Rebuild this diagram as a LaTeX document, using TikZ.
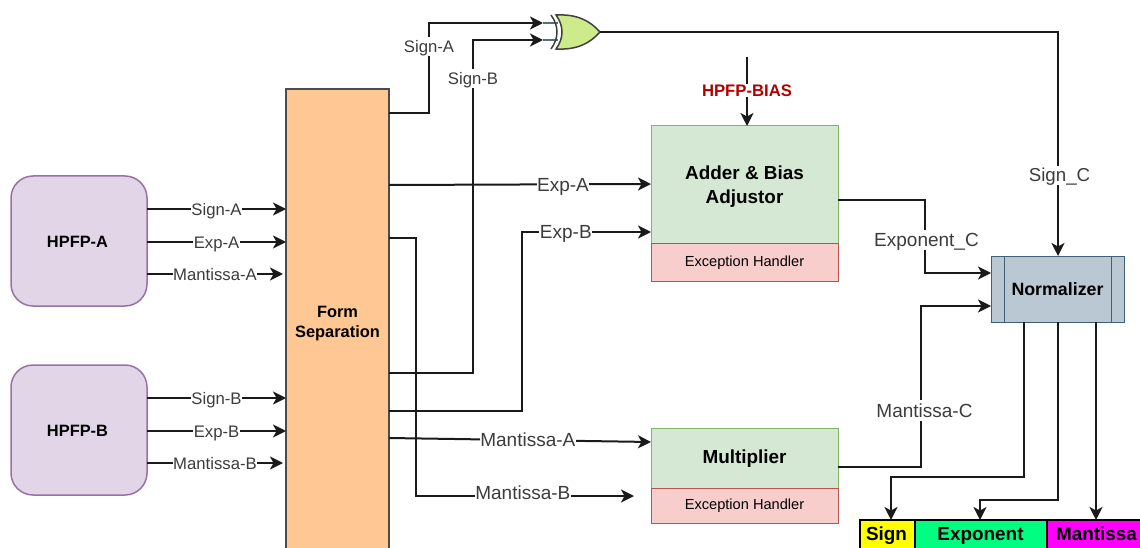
\documentclass[tikz,border=0pt]{standalone}
\usepackage{fontspec}
\setmainfont{Liberation Sans}
\usepackage{xcolor}
\usetikzlibrary{arrows.meta}
\definecolor{lilac}{HTML}{E1D5E7}
\definecolor{lilacline}{HTML}{9673A6}
\definecolor{peach}{HTML}{FFC794}
\definecolor{mint}{HTML}{D5E8D4}
\definecolor{mintline}{HTML}{82B366}
\definecolor{blush}{HTML}{F8CECC}
\definecolor{blushline}{HTML}{B85450}
\definecolor{slate}{HTML}{BAC8D3}
\definecolor{slateline}{HTML}{3F6078}
\definecolor{gategreen}{HTML}{CDEB8B}
\definecolor{biasred}{HTML}{B20000}
\definecolor{wirecol}{HTML}{1A1A1A}
\definecolor{labcol}{HTML}{3C3C3C}
\definecolor{expgreen}{HTML}{00FF80}
\definecolor{fuchsia}{HTML}{FF00FF}
\definecolor{lemon}{HTML}{FFFF00}

\begin{document}
\begin{tikzpicture}[>={Stealth[length=13pt,width=13pt,inset=3.5pt]}, x=1pt, y=-1pt]
	\useasboundingbox (0,0) rectangle (1140,548);
	\clip (0,0) rectangle (1140,548);
	
	% ------------------------------------------------------------------
	% STYLE DEFINITIONS
	% ------------------------------------------------------------------
	\tikzset{
		block/.style  = {draw, line width=1pt, inner sep=0pt, outer sep=0pt, anchor=north west, align=center},
		hpfp/.style   = {block, fill=lilac, draw=lilacline, line width=1.5pt, rounded corners=22pt,
			minimum width=136pt, minimum height=130pt, font=\fontsize{16.4}{19}\selectfont\bfseries},
		unit/.style   = {block, fill=mint, draw=mintline, minimum width=187pt, font=\fontsize{18.9}{24}\selectfont\bfseries},
		handler/.style = {block, fill=blush, draw=blushline, minimum width=187pt, font=\fontsize{14.6}{17}\selectfont},
		field/.style  = {block, draw=black, line width=1.5pt, minimum height=40pt, text depth=13pt,
			font=\fontsize{18.9}{22}\selectfont\bfseries},
		wire/.style   = {line width=2pt, wirecol},
		lab/.style    = {fill=white, inner sep=0.5pt, text height=15pt, text depth=3pt, text=labcol, font=\fontsize{16.7}{19}\selectfont},
		biglab/.style = {lab, text height=16.6pt, font=\fontsize{19}{22}\selectfont}
	}
	
	% --- Blocks ---
	\node[hpfp] (hpfpA) at (11,176) {\rule{0pt}{13pt}HPFP-A\hspace{3pt}};
	\node[hpfp] (hpfpB) at (11,365) {\rule{0pt}{13pt}HPFP-B\hspace{3pt}};
	\node[block, fill=peach, draw=black!70, line width=1.5pt, minimum width=103pt, minimum height=480pt] (sep) at (286,89) {};
	\node[align=center, font=\fontsize{16.4}{20}\selectfont\bfseries] (septext) at (337.5,323.5) {Form\\Separation};
	
	\node[unit, minimum height=117pt] (adder) at (651,126) {\rule{0pt}{18pt}Adder \& Bias\\Adjustor};
	\node[handler, minimum height=38pt] (adderexc) at (651,243) {\rule{0pt}{13pt}Exception Handler};
	\node[unit, minimum height=60pt] (mult) at (651,428) {\rule{0pt}{15pt}Multiplier};
	\node[handler, minimum height=35pt] (multexc) at (651,488) {Exception Handler};
	
	\node[block, fill=slate, draw=slateline, minimum width=133pt, minimum height=66pt,
		font=\fontsize{17.8}{21}\selectfont\bfseries] (norm) at (991,256) {Normalizer};
	\draw[slateline, line width=1pt] (1004,256) -- (1004,322) (1111,256) -- (1111,322);
	
	\node[field, fill=lemon, minimum width=55pt] (fsign) at (860,520) {Sign\hspace{2pt}};
	\node[field, fill=expgreen, minimum width=132pt] (fexp) at (915,520) {Exponent\hspace{1pt}};
	\node[field, fill=fuchsia, minimum width=98pt, text width=98pt, align=left] (fman) at (1047,520) {\hspace{9pt}Mantissa};
	
	% --- XOR gate ---
	\coordinate (xorA) at (543,23);
	\coordinate (xorB) at (543,40);
	\coordinate (xorOut) at (600,32);
	\draw[slateline!60!gray, line width=1.5pt] (xorA) -- (558,23) (xorB) -- (558,40);
	\draw[black!75, line width=1.5pt, fill=gategreen] (556,15) .. controls (578,14) and (590,21) .. (xorOut)
		.. controls (590,43) and (578,50) .. (556,49) .. controls (564,38) and (564,26) .. cycle;
	\draw[black!75, line width=1.5pt] (551,15) .. controls (559,26) and (559,38) .. (551,49);
	
	% --- HPFP to form separation ---
	\foreach \yy/\txt in {209/Sign-A, 242/Exp-A, 398/Sign-B, 431/Exp-B}{
		\draw[wire,->] (147,\yy) -- node[lab] {\txt} (sep.west |- 0,\yy);
	}
	\coordinate (manAend) at (283,274);
	\coordinate (manBend) at (283,463);
	\draw[wire,->] (hpfpA.east |- manAend) -- node[lab] {Mantissa-A} (manAend);
	\draw[wire,->] (hpfpB.east |- manBend) -- node[lab] {Mantissa-B} (manBend);
	
	% --- Sign path ---
	\draw[wire,->] (sep.east |- 0,113) -- (429,113) -- node[lab, pos=0.74] {Sign-A} (429,23) -- (xorA);
	\draw[wire,->] (sep.east |- 0,373) -- (473,373) -- node[lab, pos=0.885] {Sign-B} (473,40) -- (xorB);
	\draw[wire,->] (xorOut) -- (1058,32) -- node[lab, pos=0.64, xshift=1.5pt, font=\fontsize{18.7}{22}\selectfont] {Sign\_C} (norm.north -| 1058,0);
	
	% --- Exponent path ---
	\draw[wire,->] (sep.east |- 0,185) -- node[biglab, pos=0.664] {Exp-A} (adder.west |- 0,184);
	\draw[wire,->] (sep.east |- 0,411) -- (522,411) -- (522,232) -- node[biglab, pos=0.34] {Exp-B} (adder.west |- 0,232);
	\coordinate (biastop) at (747,57);
	\draw[wire,->] (biastop) -- node[fill=white, inner sep=1pt, yshift=1pt, text=biasred, font=\fontsize{16.7}{19}\selectfont\bfseries] (bias) {HPFP-BIAS} (adder.north -| biastop);
	\draw[wire,->] (adder.east |- 0,200) -- (925,200) -- node[biglab, pos=0.55, xshift=1.5pt] {Exponent\_C} (925,273) -- (norm.west |- 0,273);
	
	% --- Mantissa path ---
	\coordinate (manBtip) at (634,496);
	\draw[wire,->] (sep.east |- 0,438) -- node[biglab, pos=0.53] {Mantissa-A} (mult.west |- 0,442);
	\draw[wire,->] (sep.east |- 0,238) -- (416,238) -- (416,496) -- node[biglab, pos=0.49, yshift=3pt] {Mantissa-B} (manBtip);
	\draw[wire,->] (mult.east |- 0,467) -- (921,467) -- node[biglab, pos=0.35, xshift=3.5pt] {Mantissa-C} (921,306) -- (norm.west |- 0,306);
	
	% --- Normalizer to fields ---
	\draw[wire,->] (norm.south -| 1024,0) -- (1024,477) -- (891,477) -- (fsign.north -| 891,0);
	\draw[wire,->] (norm.south -| 1058,0) -- (1058,500) -- (980,500) -- (fexp.north -| 980,0);
	\draw[wire,->] (norm.south -| 1096,0) -- (fman.north -| 1096,0);
\end{tikzpicture}
\end{document}
